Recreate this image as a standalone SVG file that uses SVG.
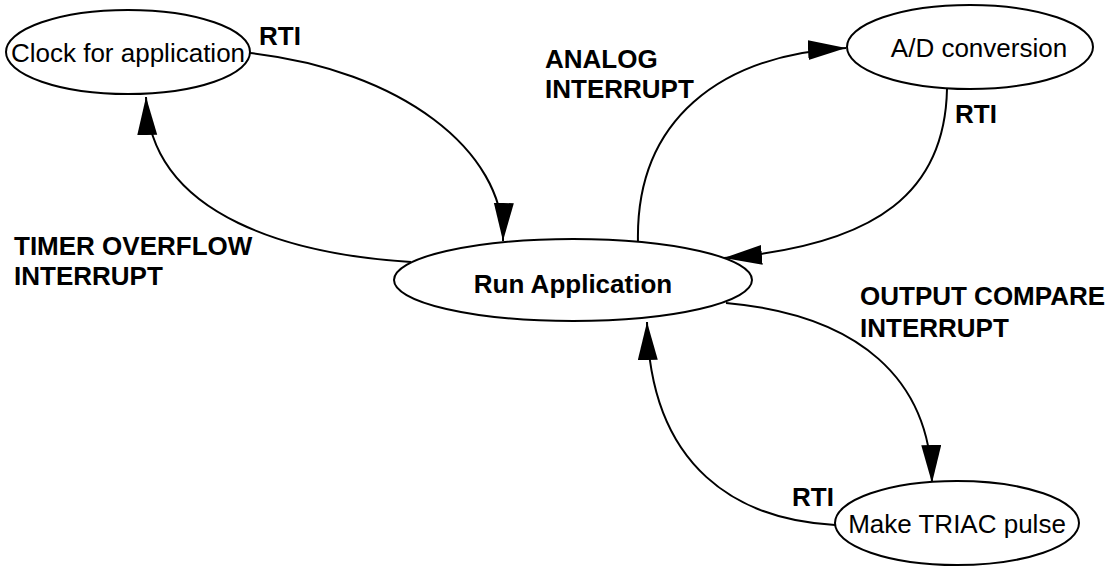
<svg xmlns="http://www.w3.org/2000/svg" width="1118" height="568" viewBox="0 0 1118 568">
<style>
  .node ellipse { fill: #fff; stroke: #000; stroke-width: 2; }
  .nt { font-family: "Liberation Sans", Arial, sans-serif; font-size: 26px; fill: #000; text-anchor: middle; }
  .lbl { font-family: "Liberation Sans", Arial, sans-serif; font-size: 26px; font-weight: bold; fill: #000; }
  .edge { fill: none; stroke: #000; stroke-width: 2; marker-end: url(#arr); }
</style>
<defs>
  <marker id="arr" markerUnits="userSpaceOnUse" markerWidth="40" markerHeight="22" refX="38" refY="10" orient="auto">
    <path d="M0,0 L38,10 L0,20 z" fill="#000"/>
  </marker>
</defs>
<rect width="1118" height="568" fill="#fff"/>
<g id="connectors">
  <path class="edge" d="M250,53 C400,70 505,150 503,241"/>
  <path class="edge" d="M411,262 C300,255 150,220 146,97"/>
  <path class="edge" d="M638,243 C635,120 720,55 846,48"/>
  <path class="edge" d="M947,89 C945,190 880,245 724,258"/>
  <path class="edge" d="M726,303 C860,315 930,380 932,483"/>
  <path class="edge" d="M835,525 C740,520 650,470 647,322"/>
</g>
<g id="clock" class="node">
  <ellipse cx="128" cy="52" rx="122" ry="42"/>
  <text class="nt" x="128" y="62">Clock for application</text>
</g>
<g id="run" class="node">
  <ellipse cx="573" cy="280" rx="179" ry="41"/>
  <text class="nt" x="573" y="293" font-weight="bold">Run Application</text>
</g>
<g id="adc" class="node">
  <ellipse cx="970" cy="47" rx="123" ry="42"/>
  <text class="nt" x="979" y="57">A/D conversion</text>
</g>
<g id="triac" class="node">
  <ellipse cx="957" cy="523" rx="122" ry="42"/>
  <text class="nt" x="957" y="533">Make TRIAC pulse</text>
</g>
<g id="labels">
  <text class="lbl" x="259" y="45">RTI</text>
  <text class="lbl" x="14" y="255">TIMER OVERFLOW</text>
  <text class="lbl" x="14" y="285">INTERRUPT</text>
  <text class="lbl" x="545" y="68">ANALOG</text>
  <text class="lbl" x="545" y="98">INTERRUPT</text>
  <text class="lbl" x="955" y="123">RTI</text>
  <text class="lbl" x="860" y="305">OUTPUT COMPARE</text>
  <text class="lbl" x="860" y="337">INTERRUPT</text>
  <text class="lbl" x="792" y="506">RTI</text>
</g>
</svg>
